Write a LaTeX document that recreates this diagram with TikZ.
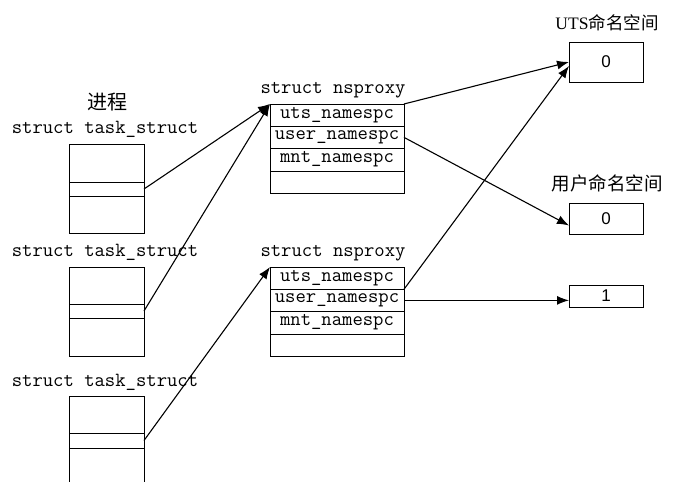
\documentclass[tikz,border=0pt]{standalone}
\usepackage{fontspec}
\setmainfont{Liberation Serif}
\newfontfamily\cjk{Noto Sans CJK SC}
\newfontfamily\digitfont{Liberation Sans}
\usetikzlibrary{positioning,arrows.meta}

\begin{document}
\begin{tikzpicture}[x=1pt,y=-1pt,
    cell/.style={draw,rectangle,inner sep=0pt,outer sep=0pt,minimum width=75pt},
    nscell/.style={draw,rectangle,inner sep=0pt,outer sep=0pt,minimum width=134pt,
      minimum height=22.25pt,font=\fontsize{20.1}{22}\selectfont\ttfamily},
    valbox/.style={draw,rectangle,inner sep=0pt,outer sep=0pt,minimum width=74pt,
      font=\fontsize{17}{20}\selectfont\digitfont},
    mono/.style={font=\fontsize{20.1}{22}\selectfont\ttfamily},
    title/.style={font=\fontsize{18.5}{22}\selectfont},
    link/.style={line width=1.1pt,-{Latex[length=12pt,width=9pt]}}]
    \useasboundingbox (0,0) rectangle (677,482);

    % processes
    \node[title,font=\fontsize{20}{22}\selectfont] (proc) at (107,102) {\cjk 进程};
    \node[mono] (t1lbl) at (105,129) {struct task\_struct};
    \node[cell,minimum height=38pt,anchor=north west] (task1a) at (69,144) {};
    \node[cell,minimum height=14pt,below=0pt of task1a] (task1b) {};
    \node[cell,minimum height=37pt,below=0pt of task1b] (task1c) {};

    \node[mono] (t2lbl) at (105,252) {struct task\_struct};
    \node[cell,minimum height=37pt,anchor=north west] (task2a) at (69,267) {};
    \node[cell,minimum height=14pt,below=0pt of task2a] (task2b) {};
    \node[cell,minimum height=38pt,below=0pt of task2b] (task2c) {};

    \node[mono] (t3lbl) at (105,382) {struct task\_struct};
    \node[cell,minimum height=37pt,anchor=north west] (task3a) at (69,396) {};
    \node[cell,minimum height=15pt,below=0pt of task3a] (task3b) {};
    \draw (task3b.south west) -- ++(0,34);
    \draw (task3b.south east) -- ++(0,34);

    % nsproxy structs
    \node[mono] (ns1lbl) at (333,90) {struct nsproxy};
    \node[nscell,anchor=north west] (ns1uts) at (270,104) {uts\_namespc};
    \node[nscell,below=0pt of ns1uts] (ns1user) {user\_namespc};
    \node[nscell,below=0pt of ns1user] (ns1mnt) {mnt\_namespc};
    \node[nscell,below=0pt of ns1mnt] (ns1free) {};

    \node[mono] (ns2lbl) at (333,253) {struct nsproxy};
    \node[nscell,anchor=north west] (ns2uts) at (270,267) {uts\_namespc};
    \node[nscell,below=0pt of ns2uts] (ns2user) {user\_namespc};
    \node[nscell,below=0pt of ns2user] (ns2mnt) {mnt\_namespc};
    \node[nscell,below=0pt of ns2mnt] (ns2free) {};

    % namespaces
    \node[title,font=\fontsize{17.5}{20}\selectfont] (utslbl) at (607,23) {UTS\cjk 命名空间};
    \node[valbox,minimum height=40pt,anchor=north west] (uts) at (569,42) {0};
    \node[title] (userlbl) at (607,183) {\cjk 用户命名空间};
    \node[valbox,minimum height=31pt,anchor=north west] (user0) at (569,203) {0};
    \node[valbox,minimum height=22pt,anchor=north west] (user1) at (569,285) {1};

    \draw[link] (task1b.east) -- (ns1uts.north west);
    \draw[link] (task2b.east) -- (ns1uts.north west);
    \draw[link] (task3b.east) -- (ns2uts.north west);
    \draw[link] (ns1uts.north east) -- (uts.west);
    \draw[link] (ns2uts.south east) -- ([yshift=-4pt]uts.west);
    \draw[link] (ns1user.east) -- ([yshift=-7pt]user0.west);
    \draw[link] (ns2user.east) -- (user1.west |- ns2user.east);
\end{tikzpicture}
\end{document}
